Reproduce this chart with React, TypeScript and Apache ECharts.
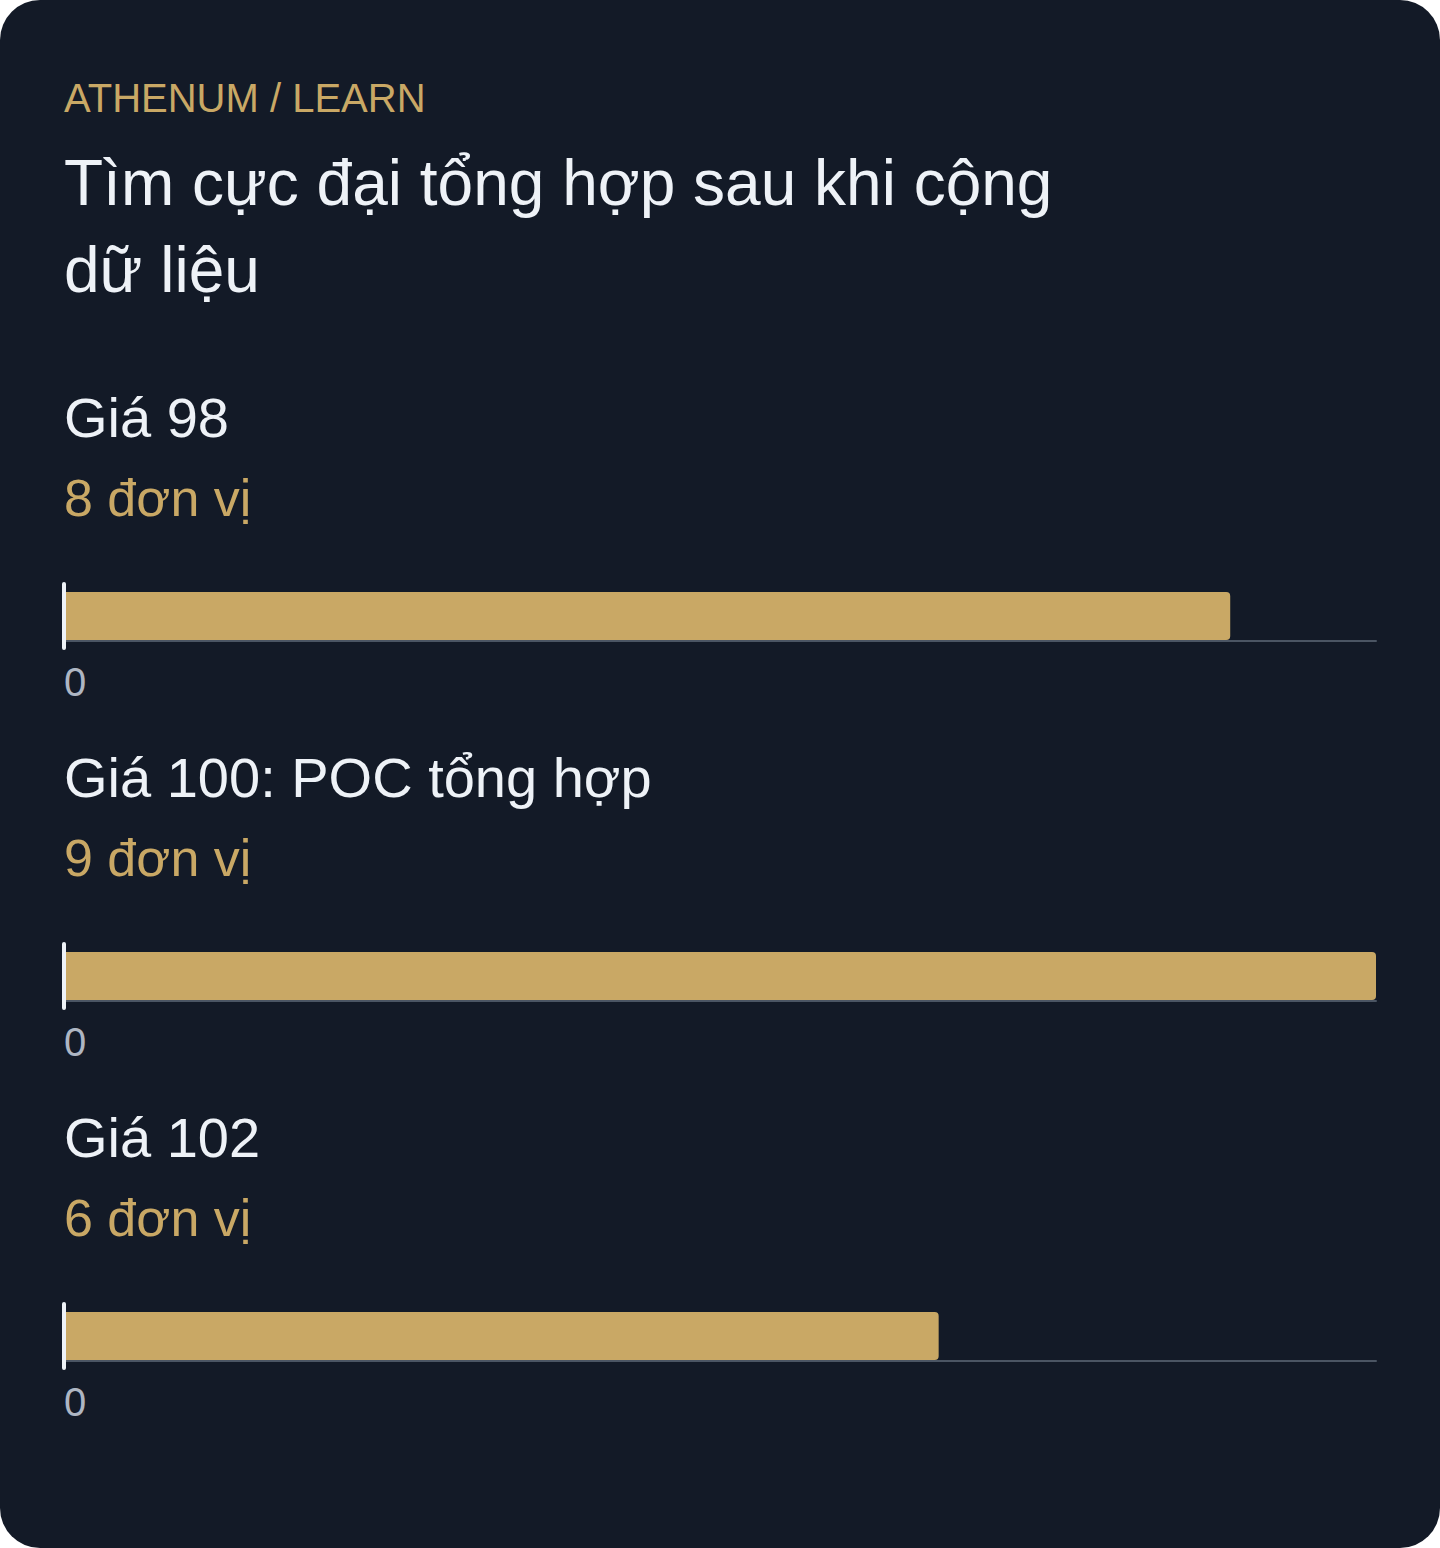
import * as echarts from "echarts";
import React, { useEffect, useRef } from "react";

// chart values
const priceLabels = ["Giá 98", "Giá 100: POC tổng hợp", "Giá 102"];
const volumes = [8, 9, 6];
const volumeUnit = "đơn vị";
const axisMax = 9;

const BG = "#131a27";
const GOLD = "#c9a865";
const WHITE = "#eef2f7";
const MUTED = "#aeb6c3";
const AXIS = "#4b5563";
const FONT = "'Liberation Sans', Arial, Helvetica, sans-serif";

const SECTION_GAP = 360;

export default function App() {
  const chartRef = useRef<HTMLDivElement>(null);

  useEffect(() => {
    document.body.style.margin = "0";
    if (!chartRef.current) return;

    const myChart = echarts.init(chartRef.current, null, { renderer: "svg" });

    const grids = priceLabels.map((_, i) => ({
      left: 64,
      right: 64,
      top: 584 + i * SECTION_GAP,
      height: 64,
    }));

    const xAxes = priceLabels.map((_, i) => ({
      type: "value",
      gridIndex: i,
      min: 0,
      max: axisMax,
      interval: axisMax,
      offset: -7,
      axisLine: { show: true, lineStyle: { color: AXIS, width: 2 } },
      axisTick: { show: false },
      splitLine: { show: false },
      axisLabel: {
        showMaxLabel: false,
        align: "left",
        margin: 21,
        color: MUTED,
        fontSize: 40,
        fontFamily: FONT,
      },
    }));

    const yAxes = priceLabels.map((label, i) => ({
      type: "category",
      gridIndex: i,
      data: [label],
      z: 3,
      axisLine: { show: true, lineStyle: { color: WHITE, width: 4 } },
      axisTick: { show: false },
      axisLabel: { show: false },
    }));

    const series = volumes.map((v, i) => ({
      type: "bar",
      name: priceLabels[i],
      xAxisIndex: i,
      yAxisIndex: i,
      data: [v],
      barWidth: 48,
      itemStyle: { color: GOLD, borderRadius: [0, 4, 4, 0] },
    }));

    const texts: any[] = [
      {
        type: "text",
        left: 64,
        top: 78,
        style: {
          text: "ATHENUM / LEARN",
          fill: GOLD,
          font: `40px ${FONT}`,
        },
      },
      {
        type: "text",
        x: 64,
        y: 139,
        style: {
          text: "Tìm cực đại tổng hợp sau khi cộng\ndữ liệu",
          lineHeight: 87,
          fill: WHITE,
          font: `64px ${FONT}`,
          verticalAlign: "top",
        },
      },
    ];

    priceLabels.forEach((label, i) => {
      const dy = i * SECTION_GAP;
      texts.push({
        type: "text",
        x: 64,
        y: 417 + dy,
        style: {
          text: label,
          fill: WHITE,
          font: `56px ${FONT}`,
          verticalAlign: "middle",
        },
      });
      texts.push({
        type: "text",
        x: 64,
        y: 498 + dy,
        style: {
          text: `${volumes[i]} ${volumeUnit}`,
          fill: GOLD,
          font: `52px ${FONT}`,
          verticalAlign: "middle",
        },
      });
    });

    const option = {
      animation: false,
      textStyle: { fontFamily: FONT },
      grid: grids,
      xAxis: xAxes,
      yAxis: yAxes,
      series,
      graphic: texts,
    };
    myChart.setOption(option);

    return () => {
      myChart.dispose();
    };
  }, []);

  return (
    <div
      ref={chartRef}
      style={{
        width: "1440px",
        height: "1548px",
        background: BG,
        borderRadius: "40px",
        overflow: "hidden",
      }}
    ></div>
  );
}
